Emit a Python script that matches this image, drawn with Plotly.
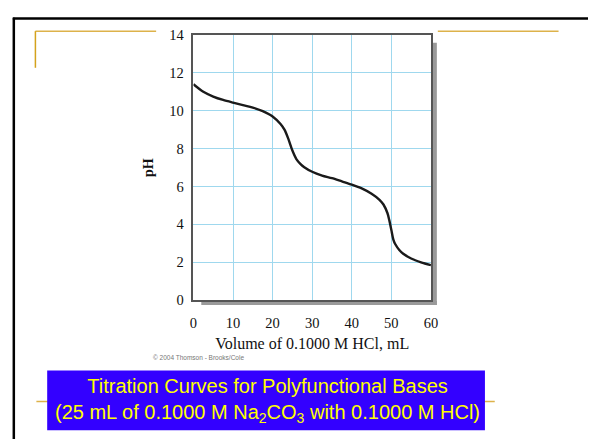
import plotly.graph_objects as go

# Data
volume_ml = [0, 2.5, 5, 7.5, 10, 12.5, 15, 17.5, 20, 22, 23, 24, 25, 26, 27, 28, 30,
             32.5, 35, 37.5, 40, 42.5, 45, 47, 48, 49, 49.5, 50, 50.5, 51, 52, 53, 55, 57.5, 60]
ph_values = [11.4, 11.0, 10.75, 10.57, 10.43, 10.3, 10.17, 9.98, 9.7, 9.3, 9.0, 8.5, 7.9,
             7.45, 7.2, 7.02, 6.78, 6.58, 6.44, 6.27, 6.1, 5.9, 5.62, 5.3, 5.05, 4.6, 4.2,
             3.7, 3.2, 2.95, 2.65, 2.45, 2.2, 2.0, 1.85]
x_ticks = [0, 10, 20, 30, 40, 50, 60]
y_ticks = [0, 2, 4, 6, 8, 10, 12, 14]

W, H = 595, 447
GOLD = "#DDB24A"
SERIF = "Liberation Serif, Times New Roman, serif"

fig = go.Figure()
fig.add_trace(go.Scatter(x=volume_ml, y=ph_values, mode="lines",
                         line=dict(color="#1a1a1a", width=2.4, shape="spline", smoothing=0.8),
                         hoverinfo="skip", showlegend=False))

x0p, x1p = 193 / W, 435 / W
y1p, y0p = 1 - 28 / H, 1 - 303 / H

fig.update_layout(
    width=W, height=H, margin=dict(l=0, r=0, t=0, b=0),
    paper_bgcolor="white", plot_bgcolor="white",
    xaxis=dict(domain=[x0p, x1p], range=[0, 60], tickvals=x_ticks,
               showgrid=True, gridcolor="#9fd8ee", gridwidth=1.3, zeroline=False,
               showline=True, linecolor="#555", linewidth=1.5, mirror=True,
               ticks="", ticklabelstandoff=9,
               tickfont=dict(family=SERIF, size=14.5, color="#111"),
               title=dict(text="Volume of 0.1000 M HCl, mL", standoff=7,
                          font=dict(family=SERIF, size=16, color="#111"))),
    yaxis=dict(domain=[y0p, y1p], range=[0, 14], tickvals=y_ticks,
               showgrid=True, gridcolor="#9fd8ee", gridwidth=1.3, zeroline=False,
               showline=True, linecolor="#555", linewidth=1.5, mirror=True,
               ticks="", ticklabelstandoff=5,
               tickfont=dict(family=SERIF, size=14.5, color="#111"),
               title=dict(text="<b>pH</b>", standoff=12,
                          font=dict(family=SERIF, size=14, color="#111"))),
)

shapes = []
# slide frame (top and left thick black lines)
shapes.append(dict(type="line", xref="paper", yref="paper", x0=9 / W, x1=1, y0=1 - 11 / H, y1=1 - 11 / H,
                   line=dict(color="black", width=2.5)))
shapes.append(dict(type="line", xref="paper", yref="paper", x0=10 / W, x1=10 / W, y0=0, y1=1 - 10 / H,
                   line=dict(color="black", width=2.5)))
# gold decorations
shapes.append(dict(type="line", xref="paper", yref="paper", x0=32 / W, x1=155 / W, y0=1 - 24 / H, y1=1 - 24 / H,
                   line=dict(color=GOLD, width=1.5)))
shapes.append(dict(type="line", xref="paper", yref="paper", x0=32 / W, x1=32 / W, y0=1 - 24 / H, y1=1 - 62 / H,
                   line=dict(color="#D4A21C", width=1.5)))
shapes.append(dict(type="line", xref="paper", yref="paper", x0=442 / W, x1=565 / W, y0=1 - 24 / H, y1=1 - 24 / H,
                   line=dict(color=GOLD, width=1.5)))
shapes.append(dict(type="line", xref="paper", yref="paper", x0=33 / W, x1=500 / W, y0=1 - 408 / H, y1=1 - 408 / H,
                   line=dict(color=GOLD, width=1.5)))
# plot shadow (right and bottom)
shapes.append(dict(type="rect", xref="paper", yref="paper", x0=436 / W, x1=441 / W, y0=1 - 308 / H, y1=1 - 36 / H,
                   fillcolor="#9a9a9a", line=dict(width=0), layer="below"))
shapes.append(dict(type="rect", xref="paper", yref="paper", x0=201 / W, x1=441 / W, y0=1 - 308 / H, y1=1 - 304 / H,
                   fillcolor="#9a9a9a", line=dict(width=0), layer="below"))
# blue title box
shapes.append(dict(type="rect", xref="paper", yref="paper", x0=44 / W, x1=490 / W, y0=1 - 438 / H, y1=1 - 376 / H,
                   fillcolor="#3300FF", line=dict(width=0)))
fig.update_layout(shapes=shapes)

fig.add_annotation(xref="paper", yref="paper", x=268 / W, y=1 - 407 / H, xanchor="center", yanchor="middle",
                   text="Titration Curves for Polyfunctional Bases<br>(25 mL of 0.1000 M Na<sub>2</sub>CO<sub>3</sub> with 0.1000 M HCl)",
                   showarrow=False, align="center",
                   font=dict(family="Liberation Sans, Arial, sans-serif", size=20, color="#FFFF00"))
fig.add_annotation(xref="paper", yref="paper", x=150 / W, y=1 - 362 / H, xanchor="left", yanchor="middle",
                   text="© 2004 Thomson - Brooks/Cole", showarrow=False,
                   font=dict(family="Liberation Sans, Arial, sans-serif", size=6.5, color="#777"))

fig.write_html("out.html")
